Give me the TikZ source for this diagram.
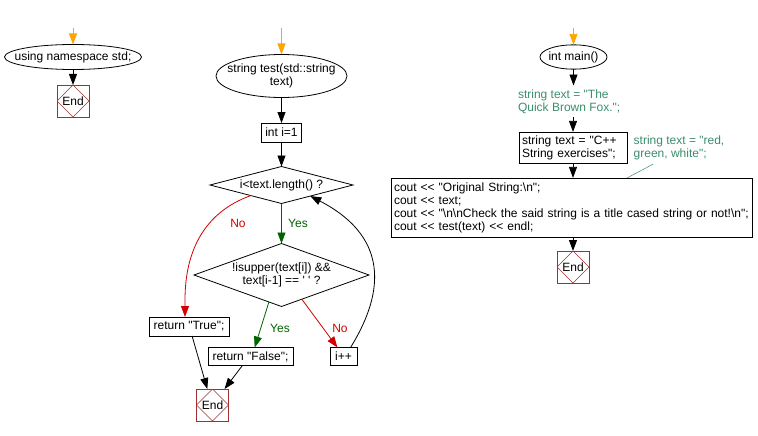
\documentclass[tikz,border=0pt]{standalone}
\usepackage{fontspec}
\setmainfont{Liberation Sans}[Ligatures=TeXOff]
\usetikzlibrary{shapes,arrows.meta}

\definecolor{endred}{RGB}{160,48,48}
\definecolor{notegreen}{RGB}{60,140,108}
\definecolor{yesgreen}{RGB}{0,100,0}
\definecolor{nored}{RGB}{210,0,0}
\definecolor{startorange}{RGB}{255,165,0}

\begin{document}
\begin{tikzpicture}[x=1pt,y=-1pt,line width=0.8pt,font=\fontsize{12}{13}\selectfont]
    \tikzstyle{every node}=[inner sep=0pt,outer sep=0pt]
    \tikzstyle{func}=[ellipse,draw,align=center,inner xsep=-14pt,inner ysep=3pt]
    \tikzstyle{stmt}=[rectangle,draw,align=left,inner xsep=3pt,inner ysep=3.5pt,minimum height=19pt]
    \tikzstyle{cond}=[diamond,draw,align=center]
    \tikzstyle{stop}=[rectangle,draw=endred,minimum size=32pt,
      path picture={\draw[endred,line width=0.6pt] (path picture bounding box.north) -- (path picture bounding box.east)
        -- (path picture bounding box.south) -- (path picture bounding box.west) -- cycle;}]
    \tikzstyle{note}=[text=notegreen,align=left,inner ysep=4pt]
    \tikzstyle{flow}=[-{Triangle[length=11pt,width=8pt]}]
    \tikzstyle{entry}=[flow,startorange]
    \useasboundingbox (0,0) rectangle (758,436);

    % using namespace std;
    \coordinate (in1) at (73,28);
    \node[func,minimum width=137pt,minimum height=25pt] (uns) at (73,57) {using namespace std;};
    \node[stop] (end1) at (73,101) {End};
    \draw[entry] (in1) -- (uns);
    \draw[flow] (uns) -- (end1);

    % string test(std::string text)
    \coordinate (in2) at (281.5,28);
    \node[func,minimum width=131pt,minimum height=43pt] (test) at (281.5,76) {string test(std::string\\text)};
    \node[stmt,minimum width=40pt] (init) at (281.5,132.5) {int i=1};
    \node[cond,aspect=3.9,minimum width=143pt,minimum height=37pt] (len) at (281.5,185) {i<text.length() ?};
    \node[cond,aspect=2.8,minimum width=175pt,minimum height=63pt] (upper) at (281.5,275) {!isupper(text[i]) \&\&\\text[i-1] == ' ' ?};
    \node[stmt,minimum width=80pt] (rtrue) at (189,326.5) {return "True";};
    \node[stmt,minimum width=85pt,minimum height=18pt] (rfalse) at (250.5,356.5) {return "False";};
    \node[stmt,minimum width=27pt,minimum height=18pt] (incr) at (343.5,356.5) {i++};
    \node[stop] (end2) at (212.5,405) {End};
    \node[text=yesgreen] (yes1) at (298,223) {Yes};
    \node[text=nored] (no1) at (238,223) {No};
    \node[text=yesgreen] (yes2) at (280,328) {Yes};
    \node[text=nored] (no2) at (340,328) {No};
    \coordinate (nobend) at (185,300);
    \draw[entry] (in2) -- (test);
    \draw[flow] (test) -- (init);
    \draw[flow] (init) -- (len);
    \draw[flow,yesgreen] (len) -- (upper);
    \draw[flow,nored] (len.199) .. controls (205,212) and (185,250) .. (nobend) -- (nobend |- rtrue.north);
    \draw[flow,yesgreen] (upper.-115) -- (rfalse.65);
    \draw[flow,nored] (upper.-50) -- (incr.124);
    \draw[flow] (incr.52) .. controls (380,300) and (395,240) .. (len.-21);
    \draw[flow] (rtrue.-72) -- (end2.108);
    \draw[flow] (rfalse.-132) -- (end2.53);

    % int main()
    \coordinate (in3) at (573.5,28);
    \node[func,minimum width=67pt,minimum height=24pt] (main) at (573.5,57) {int main()};
    \node[note,anchor=west] (fox) at (518,101.5) {string text = "The\\Quick Brown Fox.";};
    \node[stmt,text width=102pt] (cpp) at (573,147.5) {string text = "C++\\String exercises";};
    \node[note] (rgb) at (679,148) {string text = "red,\\green, white";};
    \node[stmt,text width=355pt,inner ysep=4.5pt] (code) at (571.5,207.5)
      {cout << "Original String:\textbackslash n";\\
       cout << text;\\
       cout << "\textbackslash n\textbackslash nCheck the said string is a title cased string or not!\textbackslash n";\\
       cout << test(text) << endl;};
    \node[stop] (end3) at (573,267) {End};
    \coordinate (cmt) at (627,178);
    \draw[entry] (in3) -- (main);
    \draw[flow] (main) -- (main |- fox.north);
    \draw[flow] (cpp.north |- fox.south) -- (cpp);
    \draw[notegreen,line width=0.5pt] (rgb.-148) -- (cmt);
    \draw[flow] (cpp.south) -- (cpp.south |- code.north);
    \draw[flow] (end3.north |- code.south) -- (end3);
\end{tikzpicture}
\end{document}
